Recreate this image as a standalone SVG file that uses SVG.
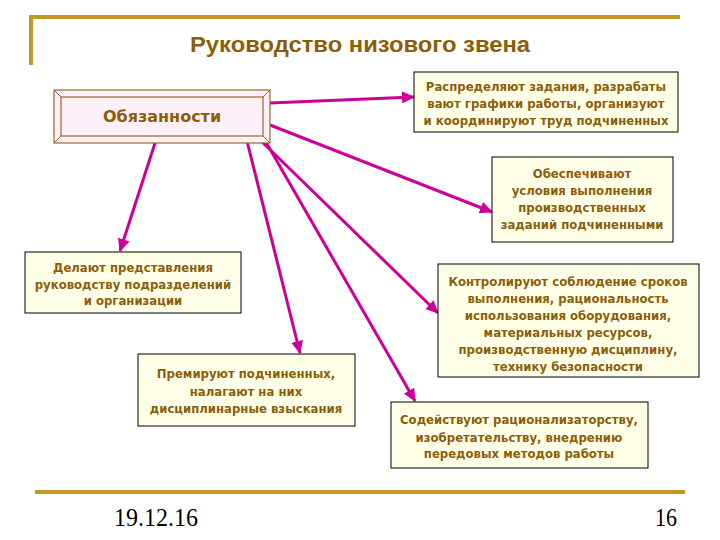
<svg xmlns="http://www.w3.org/2000/svg" width="720" height="540" viewBox="0 0 720 540">
<defs>
<style>
.rule{stroke:#C49A1E;stroke-width:4;fill:none}
.box{fill:#FFFFE8;stroke:#000;stroke-width:1}
.t{font-family:"DejaVu Sans",Verdana,sans-serif;font-weight:bold;font-size:11.7px;fill:#8B5E0A;text-anchor:middle}
.con{stroke:#CC0099;stroke-width:3;fill:none;marker-end:url(#ah)}
.foot{font-family:"Liberation Serif","Times New Roman",serif;font-size:26px;fill:#000}
</style>
<marker id="ah" markerUnits="userSpaceOnUse" markerWidth="14" markerHeight="12" refX="12" refY="6" orient="auto">
<path d="M0,0 L13,6 L0,12 Z" fill="#CC0099"/>
</marker>
</defs>
<rect width="720" height="540" fill="#fff"/>
<path class="rule" d="M31,65 V17 H680"/>
<text x="190" y="52" textLength="340" lengthAdjust="spacingAndGlyphs" font-family="'Liberation Sans',Arial,sans-serif" font-weight="bold" font-size="22" fill="#8B5E0A">Руководство низового звена</text>

<g id="connectors">
<line class="con" x1="270" y1="103" x2="414" y2="97"/>
<line class="con" x1="270" y1="125" x2="492" y2="212"/>
<line class="con" x1="157" y1="137" x2="120" y2="251"/>
<line class="con" x1="246" y1="137" x2="300" y2="353"/>
<line class="con" x1="257" y1="137" x2="438" y2="313"/>
<line class="con" x1="263" y1="137" x2="415" y2="401"/>
</g>

<g id="duties">
<rect x="54" y="90" width="216" height="53" fill="#FDF0F8" stroke="#996633" stroke-width="1.2"/>
<rect x="61" y="97" width="202" height="39" fill="#FDF0F8" stroke="#996633" stroke-width="1.2"/>
<path d="M54,90 L61,97 M270,90 L263,97 M54,143 L61,136 M270,143 L263,136" stroke="#996633" stroke-width="1"/>
<text x="162" y="122" font-family="'DejaVu Sans',Verdana,sans-serif" font-weight="bold" font-size="16" fill="#8B5E0A" text-anchor="middle">Обязанности</text>
</g>

<g id="n1">
<rect class="box" x="414" y="72" width="264" height="60"/>
<text class="t" x="546" y="91">Распределяют задания, разрабаты</text>
<text class="t" x="546" y="108">вают графики работы, организуют</text>
<text class="t" x="546" y="125">и координируют труд подчиненных</text>
</g>

<g id="n2">
<rect class="box" x="492" y="157" width="181" height="85"/>
<text class="t" x="582" y="178">Обеспечивают</text>
<text class="t" x="582" y="195">условия выполнения</text>
<text class="t" x="582" y="212">производственных</text>
<text class="t" x="582" y="229">заданий подчиненными</text>
</g>

<g id="n3">
<rect class="box" x="25" y="252" width="216" height="61"/>
<text class="t" x="133" y="272">Делают представления</text>
<text class="t" x="133" y="289">руководству подразделений</text>
<text class="t" x="133" y="305">и организации</text>
</g>

<g id="n4">
<rect class="box" x="138" y="354" width="217" height="72"/>
<text class="t" x="246" y="378">Премируют подчиненных,</text>
<text class="t" x="246" y="396">налагают на них</text>
<text class="t" x="246" y="413">дисциплинарные взыскания</text>
</g>

<g id="n5">
<rect class="box" x="438" y="264" width="261" height="113"/>
<text class="t" x="568" y="286">Контролируют соблюдение сроков</text>
<text class="t" x="568" y="303">выполнения, рациональность</text>
<text class="t" x="568" y="320">использования оборудования,</text>
<text class="t" x="568" y="337">материальных ресурсов,</text>
<text class="t" x="568" y="354">производственную дисциплину,</text>
<text class="t" x="568" y="371">технику безопасности</text>
</g>

<g id="n6">
<rect class="box" x="391" y="402" width="257" height="66"/>
<text class="t" x="519" y="424">Содействуют рационализаторству,</text>
<text class="t" x="519" y="442">изобретательству, внедрению</text>
<text class="t" x="519" y="458">передовых методов работы</text>
</g>

<line class="rule" x1="35" y1="492" x2="685" y2="492"/>
<text class="foot" x="114" y="526" textLength="84" lengthAdjust="spacingAndGlyphs">19.12.16</text>
<text class="foot" x="655" y="526" textLength="22" lengthAdjust="spacingAndGlyphs">16</text>
</svg>
